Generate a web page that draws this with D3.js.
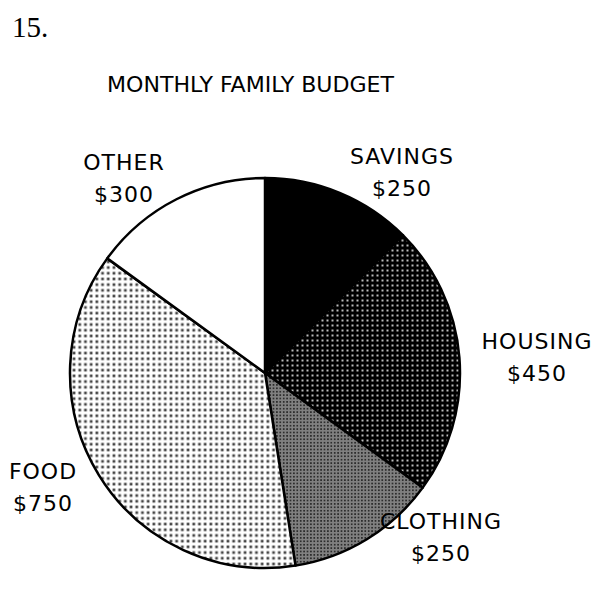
<!DOCTYPE html>
<html>
<head>
<meta charset="utf-8">
<script src="https://cdnjs.cloudflare.com/ajax/libs/d3/7.8.5/d3.min.js"></script>
<style>
body { margin: 0; background: #fff; }
svg { display: block; }
text { font-family: "DejaVu Sans", sans-serif; fill: #000; }
</style>
</head>
<body>
<div id="chart"></div>
<script>
var categories = ['SAVINGS', 'HOUSING', 'CLOTHING', 'FOOD', 'OTHER'];
var values = [250, 450, 250, 750, 300];
var amountLabels = ['$250', '$450', '$250', '$750', '$300'];

// label anchors (center x, first baseline y)
var labelPos = [[402, 164], [537, 349], [441, 529], [43, 479], [124, 170]];
var fills = ['#000', 'url(#pHousing)', 'url(#pClothing)', 'url(#pFood)', '#fff'];

window.addEventListener('load', function() {
    var svg = d3.select('#chart').append('svg')
        .attr('width', 603)
        .attr('height', 594);

    var defs = svg.append('defs');

    var ph = defs.append('pattern').attr('id', 'pHousing')
        .attr('patternUnits', 'userSpaceOnUse').attr('width', 5).attr('height', 5);
    ph.append('rect').attr('width', 5).attr('height', 5).attr('fill', '#000');
    ph.append('rect').attr('x', 1.5).attr('y', 1.5).attr('width', 2).attr('height', 2).attr('fill', '#bbb');

    var pc = defs.append('pattern').attr('id', 'pClothing')
        .attr('patternUnits', 'userSpaceOnUse').attr('width', 3.4).attr('height', 3.4);
    pc.append('rect').attr('width', 3.4).attr('height', 3.4).attr('fill', '#808080');
    pc.append('rect').attr('x', 0.9).attr('y', 0.9).attr('width', 1.6).attr('height', 1.6).attr('fill', '#222');

    var pf = defs.append('pattern').attr('id', 'pFood')
        .attr('patternUnits', 'userSpaceOnUse').attr('width', 5.7).attr('height', 5.7);
    pf.append('rect').attr('width', 5.7).attr('height', 5.7).attr('fill', '#fff');
    pf.append('rect').attr('x', 1.5).attr('y', 1.5).attr('width', 2.7).attr('height', 2.7).attr('fill', '#444');

    svg.append('text')
        .attr('x', 12).attr('y', 37)
        .style('font-family', '"Liberation Serif", serif')
        .style('font-size', '29px')
        .text('15.');

    svg.append('text')
        .attr('x', 107).attr('y', 92)
        .attr('textLength', 287)
        .attr('lengthAdjust', 'spacingAndGlyphs')
        .style('font-size', '22px')
        .text('MONTHLY FAMILY BUDGET');

    var pie = d3.pie().sort(null).value(function(d) { return d; });
    var arc = d3.arc().innerRadius(0).outerRadius(195);

    var g = svg.append('g').attr('transform', 'translate(265,373)');
    g.selectAll('path').data(pie(values))
        .enter().append('path')
        .attr('d', arc)
        .attr('fill', function(d, i) { return fills[i]; })
        .attr('stroke', '#000')
        .attr('stroke-width', 2.5)
        .attr('stroke-linejoin', 'round');

    var lbl = svg.selectAll('g.lbl').data(categories)
        .enter().append('g').attr('class', 'lbl');
    lbl.append('text')
        .attr('x', function(d, i) { return labelPos[i][0]; })
        .attr('y', function(d, i) { return labelPos[i][1]; })
        .attr('text-anchor', 'middle')
        .style('font-size', '22px')
        .style('letter-spacing', '1px')
        .text(function(d) { return d; });
    lbl.append('text')
        .attr('x', function(d, i) { return labelPos[i][0]; })
        .attr('y', function(d, i) { return labelPos[i][1] + 32; })
        .attr('text-anchor', 'middle')
        .style('font-size', '22px')
        .style('letter-spacing', '1px')
        .text(function(d, i) { return amountLabels[i]; });
});
</script>
</body>
</html>
